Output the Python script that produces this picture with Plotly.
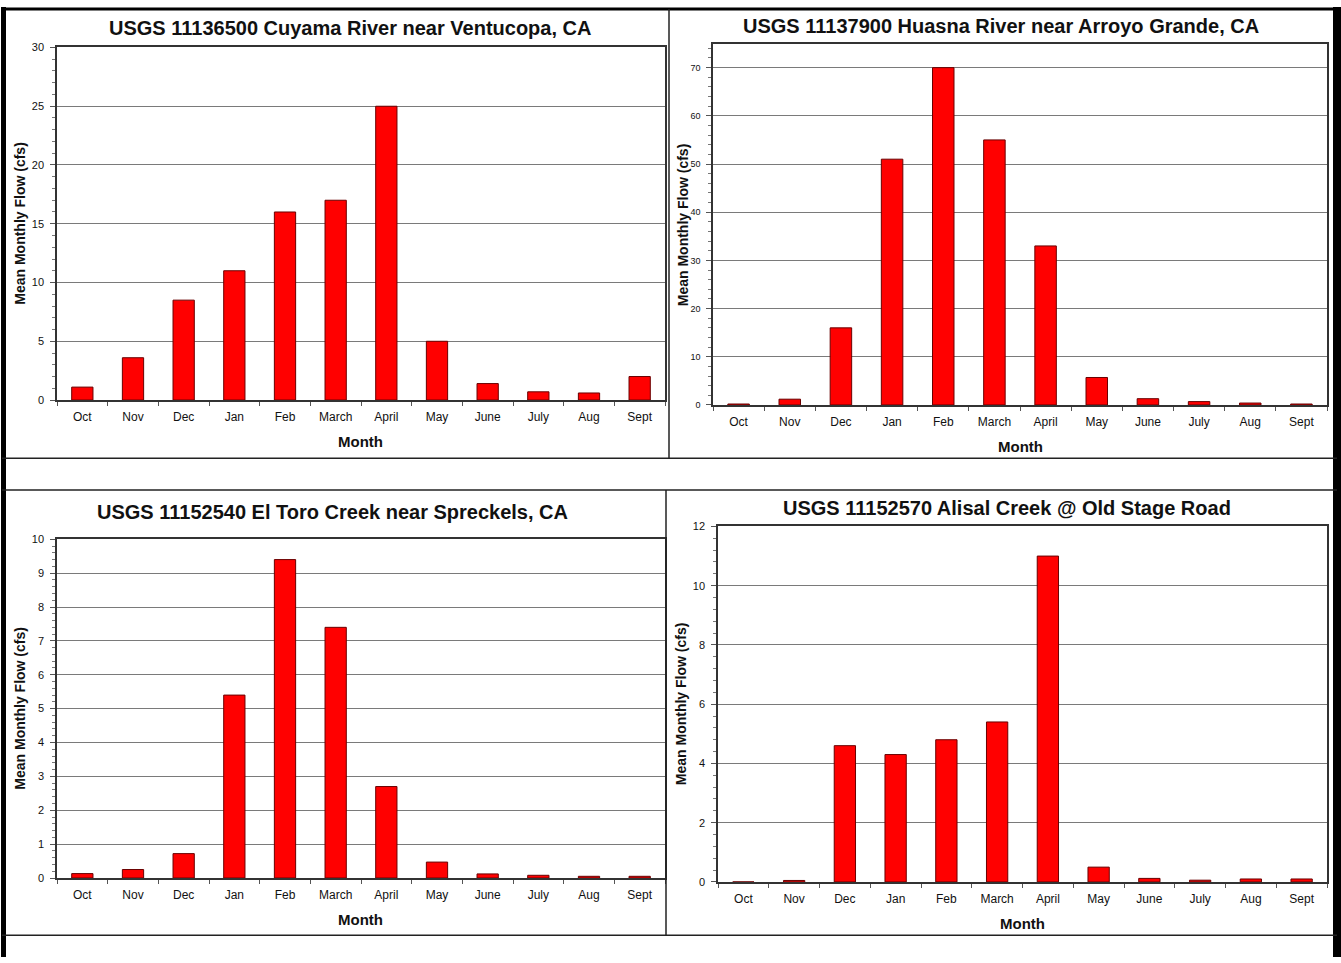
import plotly.graph_objects as go

# mean monthly flow (cfs)
months = ["Oct", "Nov", "Dec", "Jan", "Feb", "March", "April",
          "May", "June", "July", "Aug", "Sept"]

cuyama = [1.1, 3.6, 8.5, 11, 16, 17, 25, 5.0, 1.4, 0.7, 0.6, 2.0]
huasna = [0.2, 1.2, 16, 51, 70, 55, 33, 5.7, 1.3, 0.7, 0.4, 0.2]
el_toro = [0.13, 0.25, 0.72, 5.4, 9.4, 7.4, 2.7, 0.47, 0.12, 0.08, 0.05, 0.05]
alisal = [0, 0.05, 4.6, 4.3, 4.8, 5.4, 11, 0.5, 0.12, 0.06, 0.1, 0.1]

titles = ["USGS 11136500 Cuyama River near Ventucopa, CA",
          "USGS 11137900 Huasna River near Arroyo Grande, CA",
          "USGS 11152540 El Toro Creek near Spreckels, CA",
          "USGS 11152570 Alisal Creek @ Old Stage Road"]

W, H = 1341, 963
FONT = "Liberation Sans, Arial, sans-serif"


def px_x(x):
    return x / W


def px_y(y):
    return 1 - y / H


# plot boxes in pixels: left, right, top, bottom; plus title centre and y-title x
panels = [
    dict(vals=cuyama, box=(57, 665, 42, 399), title_xy=(350, 22), ytx=20,
         rng=[0, 30], dtick=5, minor=1, tsize=11),
    dict(vals=huasna, box=(713, 1327, 38, 404), title_xy=(1001, 20), ytx=683,
         rng=[0, 75], dtick=10, minor=2, tsize=9),
    dict(vals=el_toro, box=(57, 665, 540, 883), title_xy=(332, 512), ytx=20,
         rng=[0, 10], dtick=1, minor=0.2, tsize=11),
    dict(vals=alisal, box=(718, 1327, 527, 887), title_xy=(1007, 508), ytx=681,
         rng=[0, 12], dtick=2, minor=0.4, tsize=11),
]

fig = go.Figure()
annotations = []


def note(text, x, y, size, angle=0):
    return dict(text=text, x=x, y=y, xref="paper", yref="paper",
                xanchor="center", yanchor="middle", textangle=angle,
                showarrow=False, font=dict(family=FONT, size=size, color="#111"))


for i, p in enumerate(panels):
    n = "" if i == 0 else str(i + 1)
    l, r, t, b = p["box"]
    fig.add_trace(go.Bar(x=months, y=p["vals"], width=0.42,
                         marker=dict(color="#FF0000",
                                     line=dict(color="#6a0000", width=1)),
                         xaxis="x" + n, yaxis="y" + n, showlegend=False))

    fig.update_layout({
        "xaxis" + n: dict(domain=[px_x(l), px_x(r)], anchor="y" + n,
                          showline=True, mirror=True, linecolor="#333", linewidth=1.5,
                          ticks="outside", tickson="boundaries", ticklen=4,
                          tickcolor="#555", showgrid=False,
                          tickfont=dict(family=FONT, size=12, color="#111"),
                          ticklabelstandoff=5, fixedrange=True),
        "yaxis" + n: dict(domain=[px_y(b), px_y(t)], anchor="x" + n,
                          range=p["rng"], dtick=p["dtick"], tick0=0,
                          showline=True, mirror=True, linecolor="#333", linewidth=1.5,
                          ticks="outside", ticklen=5, tickcolor="#555",
                          showgrid=True, gridcolor="#7a7a7a", gridwidth=1,
                          zeroline=False,
                          minor=dict(dtick=p["minor"], ticks="outside", ticklen=3,
                                     tickcolor="#777", showgrid=False),
                          tickfont=dict(family=FONT, size=p["tsize"], color="#111"),
                          ticklabelstandoff=4, fixedrange=True),
    })

    cx = (l + r) / 2
    tx, ty = p["title_xy"]
    annotations.append(note("<b>" + titles[i] + "</b>", px_x(tx), px_y(ty), 20))
    annotations.append(note("<b>Month</b>", px_x(cx), px_y(b + 42), 15))
    annotations.append(note("<b>Mean Monthly Flow (cfs)</b>", px_x(p["ytx"]),
                            px_y((t + b) / 2), 14, angle=-90))

# table frame around the four charts
shapes = [
    dict(type="rect", x0=px_x(1), x1=px_x(6), y0=0, y1=px_y(1), fillcolor="black", line_width=0),
    dict(type="rect", x0=px_x(1333), x1=1, y0=0, y1=px_y(1), fillcolor="black", line_width=0),
    dict(type="line", x0=px_x(2), x1=px_x(1337), y0=px_y(3), y1=px_y(3), line=dict(color="black", width=3)),
]
for yy in (458, 490, 941):
    shapes.append(dict(type="line", x0=px_x(2), x1=px_x(1337), y0=px_y(yy), y1=px_y(yy),
                       line=dict(color="#222", width=1.5)))
shapes.append(dict(type="line", x0=px_x(669), x1=px_x(669), y0=px_y(3), y1=px_y(458),
                   line=dict(color="#222", width=1.5)))
shapes.append(dict(type="line", x0=px_x(666), x1=px_x(666), y0=px_y(490), y1=px_y(941),
                   line=dict(color="#222", width=1.5)))
for s in shapes:
    s.update(xref="paper", yref="paper")

fig.update_layout(width=W, height=H, margin=dict(l=0, r=0, t=0, b=0),
                  paper_bgcolor="white", plot_bgcolor="white",
                  bargap=0.5, annotations=annotations, shapes=shapes)

# pin the page to exactly the figure size so nothing pads or scrolls it
page_js = """
var gd = document.getElementById('{plot_id}');
gd.style.display = 'block';
gd.parentElement.style.height = '963px';
[document.documentElement, document.body].forEach(function (el) {
    el.style.margin = '0';
    el.style.padding = '0';
    el.style.height = '963px';
    el.style.overflow = 'hidden';
});
"""
fig.write_html("out.html", config={"displayModeBar": False}, post_script=page_js)
